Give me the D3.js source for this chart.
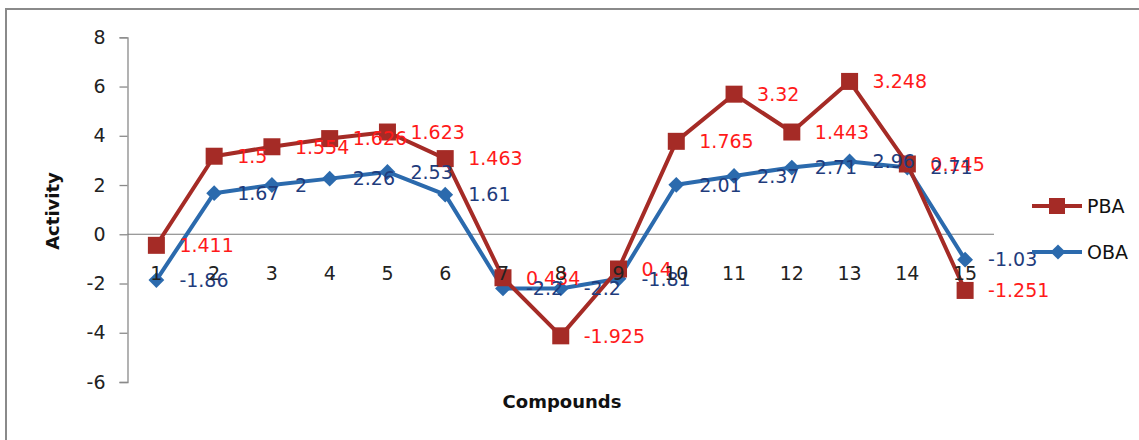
<!DOCTYPE html>
<html>
<head>
<meta charset="utf-8">
<script src="https://cdn.jsdelivr.net/npm/d3@7"></script>
<style>
  html, body { margin: 0; padding: 0; background: #fff; }
  svg { display: block; }
  text { font-family: "DejaVu Sans", sans-serif; }
</style>
</head>
<body>
<svg id="chart" width="1139" height="440"></svg>
<script>
// Compound numbers on the category axis
const compounds = [1, 2, 3, 4, 5, 6, 7, 8, 9, 10, 11, 12, 13, 14, 15];
// OBA activity per compound
const obaValues = [-1.86, 1.67, 2, 2.26, 2.53, 1.61, -2.2, -2.2, -1.81, 2.01, 2.37, 2.71, 2.96, 2.71, -1.03];
// PBA activity per compound (stacked on top of OBA)
const pbaValues = [1.411, 1.5, 1.554, 1.626, 1.623, 1.463, 0.434, -1.925, 0.4, 1.765, 3.32, 1.443, 3.248, 0.145, -1.251];
// Value axis ticks
const yTicks = [-6, -4, -2, 0, 2, 4, 6, 8];
const seriesNames = ["OBA", "PBA"];

const svg = d3.select("#chart");
const W = 1139, H = 440;

// outer chart frame
svg.append("rect")
  .attr("x", 6).attr("y", 9)
  .attr("width", W + 10).attr("height", H + 10)
  .attr("fill", "#fff")
  .attr("stroke", "#8a8a8a")
  .attr("stroke-width", 2);

const plot = { left: 127.5, right: 994, top: 37.3, bottom: 382 };

const x = d3.scaleBand().domain(compounds).range([plot.left, plot.right]).padding(0);
const cx = d => x(d) + x.bandwidth() / 2;
const y = d3.scaleLinear().domain([-6, 8]).range([plot.bottom, plot.top]);

// stacked series: PBA sits on top of OBA
const rows = compounds.map((c, i) => ({ compound: c, OBA: obaValues[i], PBA: pbaValues[i] }));
const stacked = d3.stack().keys(seriesNames).offset(d3.stackOffsetNone)(rows);

const colors = { OBA: "#2b6aad", PBA: "#a52b26" };
const labelColors = { OBA: "#1f3c7c", PBA: "#ff1a1a" };

// value axis
const yAxis = d3.axisLeft(y).tickValues(yTicks).tickSize(8).tickPadding(14).tickFormat(d => String(d));
const gy = svg.append("g").attr("transform", `translate(${plot.left},0)`).call(yAxis);
gy.select(".domain").attr("stroke", "#8a8a8a").attr("stroke-width", 1.3);
gy.selectAll(".tick line").attr("stroke", "#8a8a8a").attr("stroke-width", 1.3);
gy.selectAll(".tick text").attr("font-size", 19).attr("fill", "#222").attr("font-family", "DejaVu Sans, sans-serif");

// category axis line at zero
svg.append("line")
  .attr("x1", plot.left).attr("x2", plot.right)
  .attr("y1", y(0)).attr("y2", y(0))
  .attr("stroke", "#7a7a7a").attr("stroke-width", 1.2);

const line = d3.line().x(d => cx(d.data.compound)).y(d => y(d[1]));

const byKey = {};
stacked.forEach(s => { byKey[s.key] = s; });

// draw OBA then PBA
["OBA", "PBA"].forEach(key => {
  const s = byKey[key];
  const g = svg.append("g");
  g.append("path")
    .datum(s)
    .attr("d", line)
    .attr("fill", "none")
    .attr("stroke", colors[key])
    .attr("stroke-width", 4)
    .attr("stroke-linejoin", "round");
  if (key === "PBA") {
    g.selectAll("rect").data(s).join("rect")
      .attr("x", d => cx(d.data.compound) - 8.5)
      .attr("y", d => y(d[1]) - 8.5)
      .attr("width", 17).attr("height", 17)
      .attr("fill", colors[key]);
  } else {
    g.selectAll("path.mk").data(s).join("path")
      .attr("class", "mk")
      .attr("d", d3.symbol(d3.symbolSquare, 125)())
      .attr("transform", d => `translate(${cx(d.data.compound)},${y(d[1])}) rotate(45)`)
      .attr("fill", colors[key]);
  }
});

// data labels: each states the series' own value, placed right of its mark
["PBA", "OBA"].forEach(key => {
  const s = byKey[key];
  svg.append("g").selectAll("text").data(s).join("text")
    .attr("x", d => cx(d.data.compound) + 23)
    .attr("y", d => y(d[1]))
    .attr("dy", "0.36em")
    .attr("font-size", 19)
    .attr("fill", labelColors[key])
    .text(d => String(d.data[key]));
});

// category labels
svg.append("g").selectAll("text").data(compounds).join("text")
  .attr("x", d => cx(d))
  .attr("y", 273)
  .attr("dy", "0.36em")
  .attr("text-anchor", "middle")
  .attr("font-size", 19)
  .attr("fill", "#222")
  .text(d => d);

// axis titles
svg.append("text")
  .attr("x", 562).attr("y", 402)
  .attr("dy", "0.36em")
  .attr("text-anchor", "middle")
  .attr("font-size", 18).attr("font-weight", "bold")
  .attr("fill", "#111")
  .text("Compounds");

svg.append("text")
  .attr("transform", `translate(53,211) rotate(-90)`)
  .attr("dy", "0.36em")
  .attr("text-anchor", "middle")
  .attr("font-size", 18).attr("font-weight", "bold")
  .attr("fill", "#111")
  .text("Activity");

// legend
const legend = [
  { key: "PBA", y: 206 },
  { key: "OBA", y: 252 }
];
legend.forEach(item => {
  const g = svg.append("g");
  g.append("line")
    .attr("x1", 1032).attr("x2", 1082)
    .attr("y1", item.y).attr("y2", item.y)
    .attr("stroke", colors[item.key]).attr("stroke-width", 4);
  if (item.key === "PBA") {
    g.append("rect")
      .attr("x", 1057 - 8).attr("y", item.y - 8)
      .attr("width", 16).attr("height", 16)
      .attr("fill", colors[item.key]);
  } else {
    g.append("path")
      .attr("d", d3.symbol(d3.symbolSquare, 115)())
      .attr("transform", `translate(1058,${item.y}) rotate(45)`)
      .attr("fill", colors[item.key]);
  }
  g.append("text")
    .attr("x", 1087).attr("y", item.y)
    .attr("dy", "0.36em")
    .attr("font-size", 19)
    .attr("fill", "#111")
    .text(item.key);
});
</script>
</body>
</html>
